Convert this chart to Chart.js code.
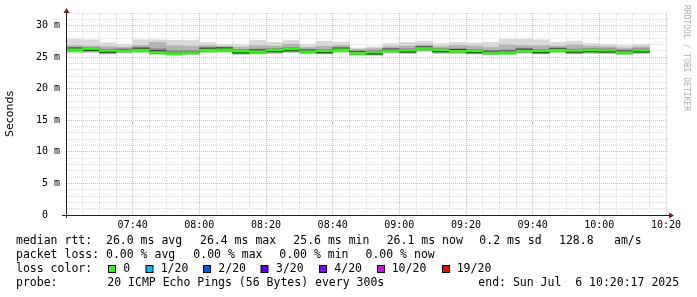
<!DOCTYPE html>
<html><head><meta charset="utf-8">
<script src="https://cdn.jsdelivr.net/npm/chart.js@4.4.1/dist/chart.umd.min.js"></script>
<style>html,body{margin:0;padding:0;background:#fff;overflow:hidden}#wrap{position:relative;width:697px;height:297px}</style>
</head><body><div id="wrap"><canvas id="c" width="697" height="297"></canvas></div>
<script>
// ---- data (5-minute steps, interval start times) ----
const timeSlots = ['07:20','07:25','07:30','07:35','07:40','07:45','07:50','07:55','08:00','08:05','08:10','08:15',
  '08:20','08:25','08:30','08:35','08:40','08:45','08:50','08:55','09:00','09:05','09:10','09:15',
  '09:20','09:25','09:30','09:35','09:40','09:45','09:50','09:55','10:00','10:05','10:10'];
// median RTT in ms
const medianRtt = [26.2,26.35,26.05,26.05,26.15,25.75,25.6,25.75,26.15,26.2,25.95,25.9,
  26.15,26.3,25.9,26.0,26.2,25.65,25.8,26.05,26.1,26.4,26.15,25.95,
  26.0,25.7,25.75,26.0,26.0,26.15,26.05,26.15,26.1,25.75,26.1];
// packet loss (pings lost out of 20)
const packetLoss = [0,0,0,0,0,0,0,0,0,0,0,0,0,0,0,0,0,0,0,0,0,0,0,0,0,0,0,0,0,0,0,0,0,0,0];
// smoke: ping distribution bands (ms)
const smokeMax = [27.9,27.8,27.35,27.1,27.8,27.8,27.7,27.7,27.35,27.1,27.0,27.7,
  27.4,27.7,27.1,27.6,27.45,26.5,26.7,27.2,27.4,27.6,27.2,27.4,
  27.3,27.4,27.9,27.9,27.8,27.4,27.6,27.2,27.1,26.9,27.1];
const smokeMidHi = [26.9,26.8,26.7,26.6,26.9,27.4,26.9,26.8,26.9,26.7,26.6,26.9,
  26.8,27.1,26.6,26.8,26.9,26.3,26.4,26.7,26.8,27.0,26.7,26.9,
  26.8,26.6,27.0,26.9,26.9,26.8,27.0,26.8,26.7,26.5,26.7];
const smokeCoreHi = [26.6,26.6,26.35,26.4,26.6,26.4,26.1,26.1,26.6,26.65,26.3,26.35,
  26.45,26.6,26.3,26.3,26.6,26.05,26.1,26.45,26.4,26.8,26.45,26.4,
  26.3,26.15,26.2,26.5,26.3,26.55,26.35,26.45,26.4,26.2,26.4];
const smokeInnerHi = [26.53,26.45,26.15,26.3,26.5,26.1,25.8,25.95,26.5,26.55,26.05,26.22,
  26.25,26.4,26.2,26.1,26.5,25.95,25.9,26.35,26.2,26.7,26.25,26.3,
  26.1,26.0,26.05,26.35,26.1,26.45,26.15,26.25,26.2,26.05,26.2];
const smokeInnerLo = [26.1,26.0,25.7,25.95,26.05,25.65,25.5,25.65,26.05,26.1,25.6,25.8,
  25.8,25.95,25.8,25.65,26.1,25.55,25.45,25.95,25.75,26.3,25.8,25.85,
  25.65,25.6,25.65,25.9,25.65,26.05,25.7,25.8,25.75,25.65,25.75];
const smokeCoreLo = [25.95,25.9,25.6,25.8,25.9,25.55,25.4,25.5,25.9,25.95,25.5,25.6,
  25.7,25.85,25.65,25.55,25.95,25.4,25.35,25.8,25.65,26.1,25.7,25.7,
  25.55,25.45,25.5,25.75,25.55,25.9,25.6,25.7,25.65,25.5,25.65];
const smokeMidLo = [25.8,25.8,25.5,25.7,25.75,25.45,25.3,25.4,25.75,25.8,25.45,25.5,
  25.6,25.75,25.55,25.5,25.8,25.3,25.3,25.7,25.6,25.95,25.6,25.6,
  25.5,25.35,25.4,25.65,25.5,25.75,25.5,25.6,25.6,25.4,25.6];
const smokeMin = [25.6,25.65,25.4,25.55,25.6,25.35,25.2,25.3,25.6,25.65,25.35,25.4,
  25.5,25.65,25.45,25.4,25.65,25.2,25.2,25.55,25.5,25.8,25.5,25.45,
  25.4,25.25,25.3,25.5,25.4,25.6,25.4,25.5,25.5,25.3,25.5];
// axes
const axisStart = '07:20';
const axisEnd = '10:20';
const xTickLabels = ['07:40','08:00','08:20','08:40','09:00','09:20','09:40','10:00','10:20'];
const yTickLabels = ['0  ','5 m','10 m','15 m','20 m','25 m','30 m'];
const yMax = 32;
// legend
const lossLevels = ['0','1/20','2/20','3/20','4/20','10/20','19/20'];
const lossLevelValues = [0,1,2,3,4,10,19];
const lossColors = ['#26ff00','#00b8ff','#0059ff','#5e00ff','#7e00ff','#dd00ff','#ff0000'];
const legendRtt = ['median rtt:  26.0 ms avg','26.4 ms max','25.6 ms min','26.1 ms now','0.2 ms sd','128.8','am/s'];
const legendLoss = ['packet loss: 0.00 % avg','0.00 % max','0.00 % min','0.00 % now'];
const legendProbe = ['probe:','20 ICMP Echo Pings (56 Bytes) every 300s','end: Sun Jul  6 10:20:17 2025'];

// ---- build ----
const toMin = s => { const [h, m] = s.split(':').map(Number); return h * 60 + m; };
const x0 = toMin(axisStart);
const xc = timeSlots.map(t => toMin(t) - x0 + 2.5);
const band = (lo, hi) => xc.map((x, i) => ({x, y: [lo[i], hi[i]]}));
const medHalf = 0.19;
const lossColor = l => { let c = lossColors[0]; lossLevelValues.forEach((v, k) => { if (l >= v) c = lossColors[k]; }); return c; };

const mono = "'DejaVu Sans Mono', monospace";
const gridMinor = 'rgba(140,140,140,0.32)';
const gridMajor = 'rgba(222,79,79,0.45)';
const axisColor = '#1f1f1f';
const arrowColor = '#801f1f';

const decor = {
  id: 'decor',
  afterDraw(chart) {
    const {ctx, chartArea: a} = chart;
    ctx.save();
    ctx.strokeStyle = axisColor; ctx.lineWidth = 1;
    ctx.beginPath();
    ctx.moveTo(a.left - 4, a.bottom + 0.5); ctx.lineTo(a.right + 4, a.bottom + 0.5);
    ctx.moveTo(a.left + 0.5, a.bottom + 3); ctx.lineTo(a.left + 0.5, a.top - 1);
    ctx.stroke();
    ctx.fillStyle = arrowColor;
    ctx.beginPath();
    ctx.moveTo(a.right + 3, a.bottom - 2.5); ctx.lineTo(a.right + 8, a.bottom + 0.5); ctx.lineTo(a.right + 3, a.bottom + 3.5); ctx.closePath(); ctx.fill();
    ctx.beginPath();
    ctx.moveTo(a.left - 2.5, a.top); ctx.lineTo(a.left + 0.5, a.top - 5); ctx.lineTo(a.left + 3.5, a.top); ctx.closePath(); ctx.fill();

    // watermark
    ctx.save();
    ctx.translate(686, 5); ctx.rotate(Math.PI / 2);
    ctx.font = '8px ' + mono; ctx.fillStyle = '#b0b0b0'; ctx.textBaseline = 'middle'; ctx.textAlign = 'left';
    ctx.fillText('RRDTOOL / TOBI OETIKER', 0, 0);
    ctx.restore();

    // legend text
    ctx.font = '11.5px ' + mono; ctx.fillStyle = '#000'; ctx.textBaseline = 'middle'; ctx.textAlign = 'left';
    const rttX = [16, 200, 293.3, 386.7, 479.3, 559, 614];
    legendRtt.forEach((s, i) => ctx.fillText(s, rttX[i], 241.5));
    const lossX = [16, 193.3, 279.3, 365.5];
    legendLoss.forEach((s, i) => ctx.fillText(s, lossX[i], 255.3));
    ctx.fillText('loss color:', 16, 269);
    const sqX = [108.5, 146, 203.5, 261, 319.5, 377.5, 442.5];
    const txX = [123.3, 160.7, 218.3, 276, 334.3, 391.7, 456.7];
    lossLevels.forEach((s, i) => {
      ctx.fillStyle = lossColors[i];
      ctx.fillRect(sqX[i], 265.5, 7, 7);
      ctx.strokeStyle = '#000'; ctx.lineWidth = 1;
      ctx.strokeRect(sqX[i], 265.5, 7, 7);
      ctx.fillStyle = '#000';
      ctx.fillText(s, txX[i], 269);
    });
    const probeX = [16, 107.3, 478.3];
    legendProbe.forEach((s, i) => ctx.fillText(s, probeX[i], 282.8));
    ctx.restore();
  }
};

const barCommon = {grouped: false, barPercentage: 1.04, categoryPercentage: 1, borderWidth: 0};
new Chart(document.getElementById('c'), {
  type: 'bar',
  data: {
    datasets: [
      Object.assign({label: 'median', data: xc.map((x, i) => ({x, y: [medianRtt[i] - medHalf, medianRtt[i] + medHalf]})),
        backgroundColor: packetLoss.map(lossColor)}, barCommon),
      Object.assign({label: 'inner', data: band(smokeInnerLo, smokeInnerHi), backgroundColor: '#3c3c3c'}, barCommon),
      Object.assign({label: 'core', data: band(smokeCoreLo, smokeCoreHi), backgroundColor: '#8a8a8a'}, barCommon),
      Object.assign({label: 'mid', data: band(smokeMidLo, smokeMidHi), backgroundColor: '#b4b4b4'}, barCommon),
      Object.assign({label: 'outer', data: band(smokeMin, smokeMax), backgroundColor: '#d9d9d9'}, barCommon)
    ]
  },
  options: {
    responsive: false, animation: false, events: [],
    layout: {padding: {left: 0, right: 31, top: 13, bottom: 0}},
    plugins: {legend: {display: false}, tooltip: {enabled: false}},
    scales: {
      x: {
        type: 'linear', min: 0, max: toMin(axisEnd) - x0, offset: false,
        afterFit: s => { s.height = 82; },
        grid: {offset: false, drawTicks: false, lineWidth: 1,
          color: c => (c.tick && c.tick.value % 20 === 0) ? gridMajor : gridMinor},
        border: {display: true, color: axisColor, width: 1, dash: [1, 1]},
        ticks: {stepSize: 5, maxTicksLimit: 100, autoSkip: false, maxRotation: 0, padding: 4, color: '#000',
          font: {family: mono, size: 10},
          callback: v => (v % 20 === 0 && v > 0) ? xTickLabels[v / 20 - 1] : ''}
      },
      y: {
        min: 0, max: yMax,
        afterFit: s => { s.width = 66; },
        title: {display: true, text: 'Seconds', color: '#000', font: {family: "'DejaVu Sans', sans-serif", size: 11}},
        grid: {drawTicks: false, lineWidth: 1,
          color: c => (c.tick && c.tick.value % 5 === 0) ? gridMajor : gridMinor},
        border: {display: true, color: axisColor, width: 1, dash: [1, 1]},
        ticks: {stepSize: 1, maxTicksLimit: 100, autoSkip: false, padding: 6, color: '#000',
          font: {family: mono, size: 10},
          callback: v => (v % 5 === 0) ? yTickLabels[v / 5] : ''}
      }
    }
  },
  plugins: [decor]
});
</script></body></html>
